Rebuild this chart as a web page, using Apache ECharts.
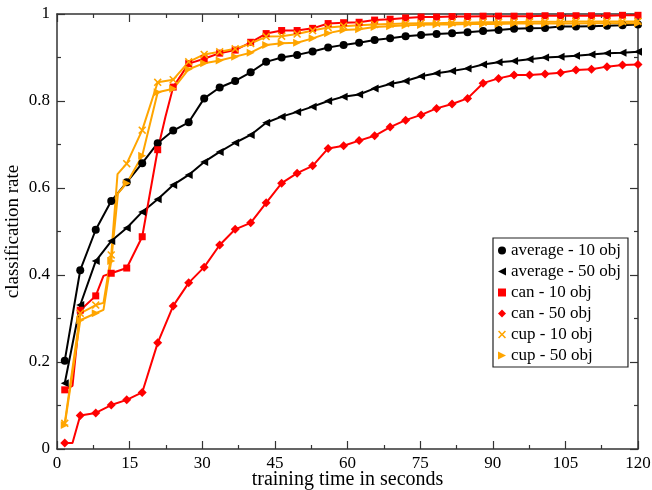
<!DOCTYPE html>
<html><head><meta charset="utf-8">
<script src="https://cdn.jsdelivr.net/npm/echarts@6/dist/echarts.min.js"></script>
<style>html,body{margin:0;padding:0;background:#fff}#c{width:652px;height:490px}</style>
</head><body><div id="c"></div>
<script>
// marker times (seconds)
const time = [1.6,4.8,8.0,11.2,14.4,17.6,20.8,24.0,27.2,30.4,33.6,36.8,40.0,43.2,46.4,49.6,52.8,56.0,59.2,62.4,65.6,68.8,72.0,75.2,78.4,81.6,84.8,88.0,91.2,94.4,97.6,100.8,104.0,107.2,110.4,113.6,116.8,120.0];
const avg10 = [0.203,0.411,0.504,0.570,0.613,0.657,0.703,0.732,0.751,0.806,0.831,0.846,0.866,0.890,0.900,0.906,0.914,0.923,0.929,0.934,0.940,0.944,0.949,0.952,0.954,0.956,0.958,0.961,0.963,0.966,0.967,0.968,0.971,0.971,0.972,0.973,0.974,0.976];
const avg50 = [0.151,0.331,0.432,0.478,0.508,0.545,0.574,0.607,0.630,0.660,0.683,0.704,0.722,0.750,0.764,0.775,0.787,0.800,0.810,0.815,0.829,0.839,0.846,0.857,0.864,0.869,0.875,0.884,0.889,0.892,0.896,0.900,0.902,0.904,0.907,0.910,0.911,0.913];
const can10 = [0.136,0.319,0.352,0.404,0.416,0.488,0.688,0.832,0.886,0.897,0.910,0.917,0.935,0.955,0.962,0.962,0.967,0.978,0.980,0.981,0.986,0.988,0.991,0.993,0.993,0.994,0.994,0.995,0.995,0.995,0.995,0.996,0.996,0.996,0.996,0.996,0.997,0.997];
const can50 = [0.014,0.077,0.083,0.101,0.113,0.130,0.244,0.329,0.382,0.418,0.469,0.505,0.520,0.566,0.611,0.634,0.651,0.691,0.697,0.709,0.720,0.740,0.756,0.768,0.783,0.793,0.806,0.841,0.852,0.860,0.860,0.862,0.865,0.871,0.873,0.879,0.883,0.884];
const cup10 = [0.059,0.312,0.331,0.446,0.656,0.733,0.843,0.849,0.890,0.907,0.913,0.920,0.932,0.948,0.949,0.954,0.962,0.969,0.972,0.974,0.976,0.977,0.978,0.979,0.979,0.980,0.980,0.981,0.981,0.981,0.982,0.982,0.982,0.983,0.983,0.983,0.983,0.983];
const cup50 = [0.055,0.296,0.312,0.432,0.611,0.674,0.820,0.828,0.873,0.887,0.893,0.902,0.911,0.929,0.933,0.934,0.944,0.956,0.963,0.965,0.970,0.972,0.974,0.975,0.976,0.976,0.977,0.977,0.977,0.978,0.978,0.978,0.978,0.978,0.979,0.979,0.979,0.979];
// unmarked intermediate points (line corners)
const can10Extra = [[3.2,0.145],[9.6,0.398],[22.4,0.764]];
const can50Extra = [[3.2,0.014]];
const cup10Extra = [[9.6,0.336],[12.5,0.632]];
const cup50Extra = [[9.6,0.320],[12.6,0.588]];
const xTicks = {min:0, max:120, interval:15};
const yTicks = {min:0, max:1, interval:0.2};

const FONT = 'Liberation Serif';
const ICON_X = 'path://M0,1.4L1.4,0L5,3.6L8.6,0L10,1.4L6.4,5L10,8.6L8.6,10L5,6.4L1.4,10L0,8.6L3.6,5Z';
const ICON_LTRI = 'path://M0,5L10,0L10,10Z';
const ICON_RTRI = 'path://M0,0L10,5L0,10Z';

function build(vals, extras){
  const pts = time.map((t,i)=>({value:[t, vals[i]]}));
  (extras||[]).forEach(e=>pts.push({value:e, symbol:'none'}));
  pts.sort((a,b)=>a.value[0]-b.value[0]);
  return pts;
}
function ser(name, vals, extras, color, symbol, size){
  return {name, type:'line', data:build(vals, extras), symbol, symbolSize:size,
    lineStyle:{color, width:2}, itemStyle:{color}, emphasis:{disabled:true}};
}
const axisLineStyle = {color:'#333', width:1.5};
function xAx(pos, labels){
  return Object.assign({type:'value', position:pos, splitLine:{show:false},
    axisLine:{show:true, onZero:false, lineStyle:axisLineStyle},
    axisTick:{show:true, inside:true, length:8, lineStyle:{color:'#333', width:1.2}},
    minorTick:{show:true, splitNumber:2, length:4, lineStyle:{color:'#333', width:1.2}},
    axisLabel:{show:labels, fontFamily:FONT, fontSize:17, color:'#000', margin:6},
  }, xTicks, labels ? {name:'training time in seconds', nameLocation:'middle', nameGap:21,
    nameMoveOverlap:false,
    nameTextStyle:{fontFamily:FONT, fontSize:20, color:'#000'}} : {});
}
function yAx(pos, labels){
  return Object.assign({type:'value', position:pos, splitLine:{show:false},
    axisLine:{show:true, onZero:false, lineStyle:axisLineStyle},
    axisTick:{show:true, inside:true, length:8, lineStyle:{color:'#333', width:1.2}},
    minorTick:{show:true, splitNumber:2, length:4, lineStyle:{color:'#333', width:1.2}},
    axisLabel:{show:labels, fontFamily:FONT, fontSize:17, color:'#000', margin:7},
  }, yTicks, labels ? {name:'classification rate', nameLocation:'middle', nameGap:34, nameRotate:90,
    nameMoveOverlap:false,
    nameTextStyle:{fontFamily:FONT, fontSize:19, color:'#000'}} : {});
}

const chart = echarts.init(document.getElementById('c'), null, {renderer:'canvas'});
chart.setOption({
  animation:false,
  backgroundColor:'#fff',
  grid:{left:57, right:14, top:14, bottom:41, containLabel:false, outerBoundsMode:'none'},
  xAxis:[xAx('bottom', true), xAx('top', false)],
  yAxis:[yAx('left', true), yAx('right', false)],
  legend:{orient:'vertical', left:493, top:238, padding:[4,7,3,5], itemGap:4,
    itemWidth:8, itemHeight:8, borderColor:'#222', borderWidth:1.2, backgroundColor:'#fff',
    textStyle:{fontFamily:FONT, fontSize:17, color:'#000'},
    data:[
      {name:'average - 10 obj', icon:'circle'},
      {name:'average - 50 obj', icon:ICON_LTRI},
      {name:'can - 10 obj', icon:'rect'},
      {name:'can - 50 obj', icon:'diamond'},
      {name:'cup - 10 obj', icon:ICON_X},
      {name:'cup - 50 obj', icon:ICON_RTRI}
    ]},
  series:[
    ser('average - 10 obj', avg10, null, '#000000', 'circle', 8),
    ser('average - 50 obj', avg50, null, '#000000', ICON_LTRI, 8),
    ser('can - 10 obj', can10, can10Extra, '#ff0000', 'rect', 7),
    ser('can - 50 obj', can50, can50Extra, '#ff0000', 'diamond', 9),
    ser('cup - 10 obj', cup10, cup10Extra, '#ffa500', ICON_X, 8),
    ser('cup - 50 obj', cup50, cup50Extra, '#ffa500', ICON_RTRI, 8)
  ]
});
</script></body></html>
